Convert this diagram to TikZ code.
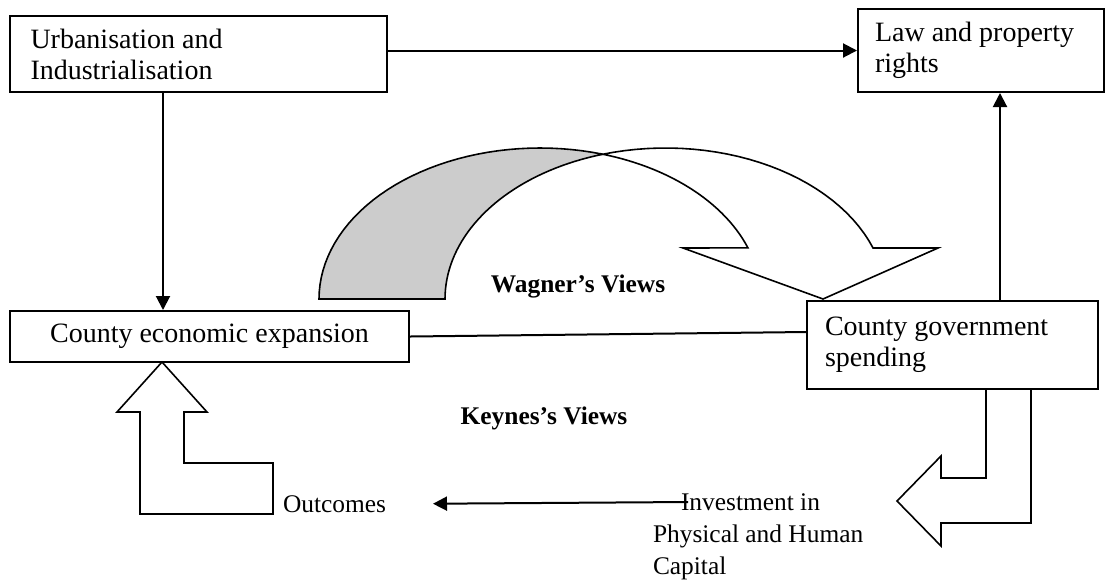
\documentclass[tikz,border=0pt]{standalone}
\usepackage{fontspec}
\setmainfont{Liberation Serif}
\usetikzlibrary{positioning,arrows.meta}

\begin{document}
\begin{tikzpicture}[x=0.5pt, y=-0.5pt, line width=1pt,
  every node/.style={font=\fontsize{14}{15.5}\selectfont},
  box/.style={draw, rectangle, inner sep=0pt, align=flush left},
  plain/.style={inner sep=0pt, align=flush left, font=\fontsize{12.7}{16}\selectfont},
  arr/.style={-{Triangle[length=7pt,width=7pt]}},
  blockarrow/.style={draw, line width=0.8pt, line join=miter, fill=white},
  views/.style={font=\fontsize{12.7}{15}\selectfont\bfseries}]
\useasboundingbox (0,0) rectangle (1117,580);
% boxes
\node[box, minimum width=188.5pt, minimum height=38pt, text width=168pt] (urban) at (198.5,54) {Urbanisation and\\Industrialisation};
\node[box, minimum width=123pt, minimum height=41.5pt, text width=106pt] (law) at (981,50.5) {Law and property\\rights};
\node[box, minimum width=199.5pt, minimum height=25.5pt, align=center] (expansion) at (209.5,336.5) {County economic expansion};
\node[box, minimum width=145.5pt, minimum height=44pt, text width=127.5pt] (spend) at (952.5,345) {County government\\spending};
% free labels
\node[plain, anchor=base west] (outcomes) at (282,512) {Outcomes};
\node[plain, anchor=base west] (invest) at (652,574) {\hspace*{14pt}Investment in\\Physical and Human\\Capital};
\node[views, anchor=base] (wagner) at (578,292) {Wagner’s Views};
\node[views, anchor=base] (keynes) at (544,424) {Keynes’s Views};

% connectors
\coordinate (ucol) at (163,0);
\coordinate (scol) at (1000,0);
\coordinate (invfrom) at (688,502);
\draw[arr] (urban.east |- law.west) -- (law.west);
\draw[arr] (urban.south -| ucol) -- (expansion.north -| ucol);
\draw[arr] (spend.north -| scol) -- (law.south -| scol);
\draw (expansion.east) -- ([yshift=6.5pt]spend.west);
\draw[arr] (invfrom) -- ([xshift=23pt]outcomes.east);

% Wagner's curved arrow
\draw[blockarrow] plot[domain=73.7:19.8, samples=30] ({540+221*cos(\x)}, {299-151*sin(\x)})
  -- (683,248) -- (823,299) -- (938,248) -- (873,248)
  -- plot[domain=19.8:106.7, samples=30] ({665.5+220.5*cos(\x)}, {299-151*sin(\x)}) -- cycle;
\draw[blockarrow, fill=black!20] plot[domain=180:73.7, samples=40] ({540+221*cos(\x)}, {299-151*sin(\x)})
  -- plot[domain=106.7:180, samples=40] ({665.5+220.5*cos(\x)}, {299-151*sin(\x)}) -- cycle;

% Keynes's bent arrows
\draw[blockarrow] (162,362) -- (207,412) -- (184,412) -- (184,463) -- (273,463) -- (273,514)
  -- (140,514) -- (140,412) -- (117,412) -- cycle;
\draw[blockarrow] (986,389) -- (986,478) -- (941,478) -- (941,456) -- (897,501) -- (941,546)
  -- (941,523) -- (1031,523) -- (1031,389) -- cycle;
\end{tikzpicture}
\end{document}
